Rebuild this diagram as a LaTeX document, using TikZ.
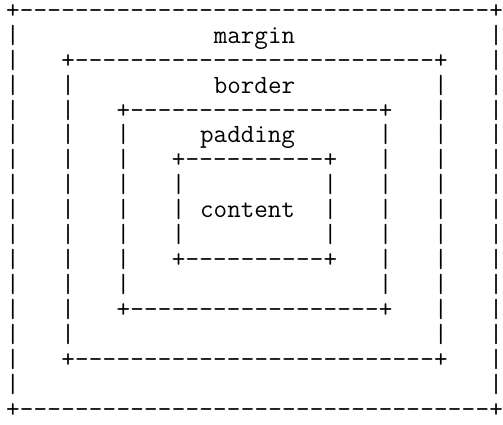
\documentclass[tikz,border=0pt]{standalone}
\usetikzlibrary{positioning}
\tikzset{
  glyph/.style={inner sep=0pt, anchor=base,
    font=\fontsize{13.33}{16}\selectfont\ttfamily},
  boxlabel/.style={glyph},
}
% one ascii box: name, left col, right col, top row, bottom row
\newcommand{\asciibox}[5]{%
  \pgfmathtruncatemacro{\ca}{#2+1}\pgfmathtruncatemacro{\cb}{#3-1}%
  \pgfmathtruncatemacro{\ra}{#4+1}\pgfmathtruncatemacro{\rb}{#5-1}%
  \node[glyph] (#1-nw) at (#2,#4) {+};
  \node[glyph] (#1-ne) at (#3,#4) {+};
  \node[glyph] (#1-sw) at (#2,#5) {+};
  \node[glyph] (#1-se) at (#3,#5) {+};
  \foreach \c in {\ca,...,\cb} {
    \node[glyph] (#1-t\c) at (\c,#4) {-};
    \node[glyph] (#1-b\c) at (\c,#5) {-};
  }
  \foreach \r in {\ra,...,\rb} {
    \node[glyph] (#1-l\r) at (#2,\r) {|};
    \node[glyph] (#1-r\r) at (#3,\r) {|};
  }
}
\begin{document}
\begin{tikzpicture}[x=7pt, y=-12.65pt]
  \useasboundingbox (-0.93,-0.73) rectangle (35.5,16.3);

  % boxes, outside in
  \asciibox{marginbox}{0}{35}{0}{16}
  \asciibox{borderbox}{4}{31}{2}{14}
  \asciibox{paddingbox}{8}{27}{4}{12}
  \asciibox{contentbox}{12}{23}{6}{10}

  % labels
  \node[boxlabel] (margin)  at (17.5,1) {margin};
  \node[boxlabel] (border)  at (17.5,3) {border};
  \node[boxlabel] (padding) at (17,5)   {padding};
  \node[boxlabel] (content) at (17,8)   {content};
\end{tikzpicture}
\end{document}
